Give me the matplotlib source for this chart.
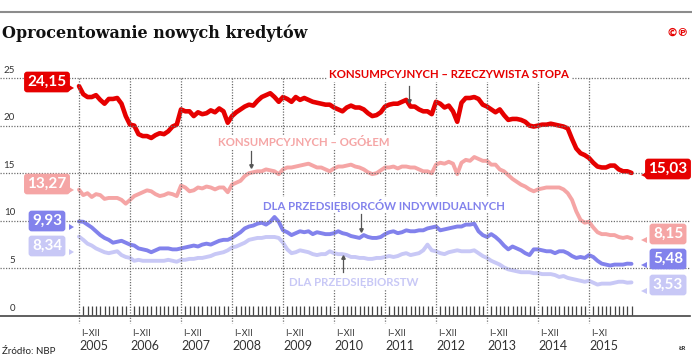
import matplotlib
matplotlib.use('Agg')
import matplotlib.pyplot as plt
from matplotlib.transforms import Affine2D, blended_transform_factory
from matplotlib.patches import Polygon

plt.rcParams['font.family'] = ['Lato', 'DejaVu Sans']

# monthly data, I 2005 - XI 2015
months = list(range(131))
years = ['2005', '2006', '2007', '2008', '2009', '2010', '2011', '2012', '2013', '2014', '2015']
periods = ['I–XII'] * 10 + ['I–XI']
grid_vals = [5, 10, 15, 20, 25]

konsump_real = [
    24.15, 23.3, 23.0, 23.0, 23.2, 22.7, 22.3, 22.8, 22.8, 22.9, 22.3, 21.0,
    20.1, 20.0, 19.1, 18.9, 18.9, 18.7, 19.0, 19.2, 19.1, 19.4, 19.9, 20.1,
    21.7, 21.5, 21.5, 21.0, 21.4, 21.2, 21.3, 21.6, 21.4, 21.8, 21.5, 20.3,
    21.0, 21.4, 21.7, 22.0, 22.2, 22.1, 22.6, 23.0, 23.2, 23.4, 23.0, 22.5,
    23.0, 22.8, 22.5, 23.0, 22.7, 22.9, 22.7, 22.5, 22.4, 22.3, 22.2, 22.2,
    21.9, 21.7, 21.5, 21.9, 22.1, 21.9, 21.9, 21.7, 21.3, 21.0, 21.1, 21.4,
    22.0, 22.2, 22.3, 22.3, 22.5, 22.7, 22.0, 22.0, 21.7, 21.5, 21.5, 21.2,
    22.5, 22.3, 21.9, 22.1, 21.5, 20.4, 22.4, 22.9, 22.9, 23.0, 22.8, 22.2,
    22.0, 21.7, 21.4, 21.7, 21.1, 20.6, 20.7, 20.7, 20.6, 20.4, 20.0, 19.9,
    20.0, 20.1, 20.1, 20.2, 20.1, 20.0, 19.9, 19.7, 18.6, 17.6, 17.1, 16.9,
    16.6, 16.1, 15.7, 15.6, 15.6, 15.8, 15.8, 15.4, 15.2, 15.2, 15.03]

konsump_all = [
    13.27, 12.7, 12.9, 12.5, 12.8, 12.7, 12.3, 12.4, 12.4, 12.4, 12.2, 11.8,
    12.2, 12.6, 12.8, 13.0, 13.2, 13.1, 12.8, 12.6, 12.7, 12.9, 12.8, 12.6,
    13.7, 13.5, 13.1, 13.2, 13.5, 13.4, 13.6, 13.5, 13.3, 13.5, 13.5, 13.0,
    13.8, 14.0, 14.2, 14.7, 15.0, 15.1, 15.2, 15.2, 15.4, 15.3, 15.2, 14.9,
    15.4, 15.6, 15.6, 15.7, 15.8, 15.9, 16.0, 15.8, 15.6, 15.6, 15.4, 15.2,
    15.5, 15.7, 15.7, 15.8, 15.9, 15.7, 15.6, 15.4, 15.1, 14.9, 15.0, 15.3,
    15.6, 15.6, 15.7, 15.5, 15.7, 15.7, 15.6, 15.6, 15.4, 15.2, 15.2, 15.0,
    15.9, 16.1, 16.0, 16.2, 16.0, 14.9, 16.1, 16.4, 16.3, 16.7, 16.5, 16.3,
    16.3, 15.9, 15.9, 15.4, 15.2, 14.8, 14.4, 14.1, 13.8, 13.6, 13.3, 13.1,
    13.3, 13.4, 13.5, 13.5, 13.5, 13.5, 13.3, 12.9, 12.2, 11.0, 10.1, 9.8,
    9.9, 9.3, 8.8, 8.6, 8.6, 8.5, 8.5, 8.3, 8.2, 8.3, 8.15]

przeds_indyw = [
    9.93, 9.9, 9.6, 9.3, 8.9, 8.5, 8.2, 8.0, 7.7, 7.8, 7.9, 7.7,
    7.5, 7.4, 7.1, 7.0, 6.9, 6.7, 6.9, 7.1, 7.1, 7.1, 7.0, 7.0,
    7.1, 7.2, 7.3, 7.4, 7.3, 7.5, 7.6, 7.5, 7.7, 7.9, 8.0, 8.0,
    8.2, 8.5, 8.8, 9.2, 9.4, 9.5, 9.7, 9.8, 9.6, 9.9, 10.4, 9.9,
    9.0, 8.8, 8.5, 8.7, 8.9, 8.8, 8.9, 8.6, 8.8, 8.7, 8.6, 8.6,
    8.7, 8.9, 8.7, 8.6, 8.4, 8.3, 8.2, 8.5, 8.3, 8.2, 8.2, 8.3,
    8.6, 8.8, 8.9, 8.7, 8.8, 9.0, 8.9, 8.9, 9.0, 9.0, 9.2, 9.3,
    9.4, 9.0, 9.1, 9.2, 9.3, 9.4, 9.4, 9.6, 9.6, 9.7, 8.9, 8.5,
    8.3, 8.6, 8.3, 7.9, 7.4, 7.0, 7.3, 7.1, 6.9, 6.6, 6.4, 7.0,
    7.0, 6.9, 6.8, 6.8, 6.6, 6.8, 6.8, 6.6, 6.3, 6.1, 6.2, 6.1,
    6.4, 6.2, 5.8, 5.5, 5.4, 5.3, 5.4, 5.4, 5.4, 5.5, 5.48]

przeds = [
    8.34, 8.0, 7.6, 7.4, 7.1, 6.9, 6.7, 6.6, 6.7, 6.8, 6.4, 6.2,
    6.1, 5.8, 5.9, 5.8, 5.8, 5.8, 5.8, 5.8, 5.8, 5.9, 5.8, 5.7,
    5.9, 5.9, 6.0, 6.0, 6.1, 6.1, 6.2, 6.3, 6.5, 6.6, 6.7, 6.9,
    7.2, 7.3, 7.5, 7.7, 8.0, 8.1, 8.2, 8.2, 8.3, 8.3, 8.3, 8.2,
    7.7, 7.0, 6.6, 6.7, 6.9, 6.8, 6.7, 6.5, 6.4, 6.5, 6.5, 6.8,
    6.6, 6.5, 6.5, 6.4, 6.2, 6.2, 6.1, 6.1, 6.0, 6.0, 6.1, 6.1,
    6.2, 6.3, 6.2, 6.3, 6.5, 6.6, 6.4, 6.5, 6.6, 6.9, 7.5, 6.9,
    6.8, 6.6, 6.5, 6.7, 6.8, 6.9, 6.8, 6.8, 6.8, 6.9, 6.6, 6.3,
    6.1, 5.8, 5.6, 5.4, 5.1, 4.9, 4.8, 4.7, 4.6, 4.6, 4.6, 4.5,
    4.5, 4.4, 4.4, 4.4, 4.3, 4.1, 4.2, 4.0, 3.9, 3.8, 3.7, 3.6,
    3.7, 3.5, 3.3, 3.4, 3.4, 3.4, 3.5, 3.6, 3.6, 3.5, 3.53]

RED = '#e60000'
PINK = '#f5a5a5'
PURPLE = '#8282ec'
LAVENDER = '#c8c8f6'
GRID = '#6e6e6e'

W, H = 692, 360
fig = plt.figure(figsize=(W / 100, H / 100), dpi=100)
# pixel coordinates, origin top-left
pix = Affine2D().scale(1 / W, -1 / H).translate(0, 1) + fig.transFigure

X0, X1, Y0, Y1 = 79, 631.5, 316, 78   # plot area in px
ax = fig.add_axes([X0 / W, 1 - Y0 / H, (X1 - X0) / W, (Y0 - Y1) / H],
                  facecolor='none')
ax.set_xlim(0, 130)
ax.set_ylim(0, 25)
ax.axis('off')

xpix_ydata = blended_transform_factory(pix, ax.transData)
xdata_ypix = blended_transform_factory(ax.transData, pix)

def ypx(v):
    return Y0 - v * (Y0 - Y1) / 25

def xpx(m):
    return X0 + m * (X1 - X0) / 130

# grid on the figure layer
for v in grid_vals:
    fig.add_artist(plt.Line2D([0, 690], [ypx(v), ypx(v)], transform=pix,
                              color=GRID, lw=0.9, ls=(0, (1, 1.2)), zorder=1))
for i in range(len(years)):
    fig.add_artist(plt.Line2D([xpx(12 * i)] * 2, [Y1, 323], transform=pix,
                              color=GRID, lw=0.9, ls=(0, (1, 1.2)), zorder=1))
fig.add_artist(plt.Line2D([0, 690], [Y0, Y0], transform=pix, color='#444444',
                          lw=1.2, zorder=1.5))

for v in [0] + grid_vals:
    ax.text(15, v + 0.35, str(v), transform=xpix_ydata, ha='right', va='bottom',
            fontsize=7, color='#333333')
for i in range(len(years)):
    ax.text(12 * i + 0.6, 333, periods[i], transform=xdata_ypix, ha='left',
            va='center', fontsize=6.5, color='#333333')
    ax.text(12 * i + 0.1, 346, years[i], transform=xdata_ypix, ha='left',
            va='center', fontsize=9, color='#333333')

# month ticks
ax.vlines([m for m in months if m % 12], 0.1, 1.0, colors='#444444', lw=0.9,
          clip_on=False, zorder=3)

# series
kw = dict(solid_joinstyle='round', solid_capstyle='round', clip_on=False)
ax.plot(months, przeds, color=LAVENDER, lw=2.8, zorder=4, **kw)
ax.plot(months, przeds_indyw, color=PURPLE, lw=2.8, zorder=5, **kw)
ax.plot(months, konsump_all, color=PINK, lw=2.8, zorder=6, **kw)
ax.plot(months, konsump_real, color=RED, lw=3.3, zorder=7, **kw)

# series labels with small pointers (above the grid layer)
labels = [
    ('KONSUMPCYJNYCH – RZECZYWISTA STOPA', RED, 329, 75, 409, 86, 101),
    ('KONSUMPCYJNYCH – OGÓŁEM', PINK, 218, 143, 251, 151, 166),
    ('DLA PRZEDSIĘBIORCÓW INDYWIDUALNYCH', PURPLE, 263, 205, 361, 214, 230),
    ('DLA PRZEDSIĘBIORSTW', LAVENDER, 289, 283, 343, 272, 257),
]
for txt, c, x, y, px_, y0, y1 in labels:
    fig.text(x, y, txt, transform=pix, ha='left', va='center', fontsize=8.2,
             fontweight='bold', color=c, zorder=5,
             bbox=dict(boxstyle='square,pad=0.15', fc='white', ec='none'))
    fig.add_artist(plt.Line2D([px_, px_], [y0, y1], transform=pix,
                              color='#555555', lw=0.9, zorder=5))
    fig.add_artist(plt.Line2D([px_], [y1], transform=pix,
                              marker='v' if y1 > y0 else '^', ms=2.5,
                              color='#555555', zorder=5))

# value boxes
series = [konsump_real, konsump_all, przeds_indyw, przeds]
colors = [RED, PINK, PURPLE, LAVENDER]
left_y = [82, 184, 221, 246]
right_y = [169, 234, 259, 285]
for s, c, ly, ry in zip(series, colors, left_y, right_y):
    fig.text(47, ly, f'{s[0]:.2f}'.replace('.', ','), transform=pix,
             ha='center', va='center', fontsize=11, fontweight='bold',
             color='white', zorder=6,
             bbox=dict(boxstyle='round,pad=0.22,rounding_size=0.2', fc=c, ec='none'))
    fig.add_artist(Polygon([(69, ly + 3), (74, ly + 6), (69, ly + 9)],
                           closed=True, fc=c, ec='none', transform=pix, zorder=6))
    fig.text(668, ry, f'{s[-1]:.2f}'.replace('.', ','), transform=pix,
             ha='center', va='center', fontsize=11, fontweight='bold',
             color='white', zorder=6,
             bbox=dict(boxstyle='round,pad=0.22,rounding_size=0.2', fc=c, ec='none'))
    fig.add_artist(Polygon([(647, ry + 3), (641, ry + 6), (647, ry + 9)],
                           closed=True, fc=c, ec='none', transform=pix, zorder=6))

# header / footer
fig.add_artist(plt.Line2D([0, W], [12, 12], transform=pix, color='#8c8c8c', lw=1.5))
fig.text(2, 33, 'Oprocentowanie nowych kredytów', transform=pix, ha='left',
         va='center', fontsize=11.5, fontweight='bold', family='DejaVu Serif',
         color='#111111')
fig.text(689, 33, '©℗', transform=pix, ha='right', va='center', fontsize=8,
         fontweight='bold', color=RED, family='DejaVu Sans')
fig.text(2, 351, 'Źródło: NBP', transform=pix, ha='left', va='center',
         fontsize=7, color='#222222')
fig.text(686, 348, 'ŁR', transform=pix, ha='right', va='center', fontsize=4.5,
         fontweight='bold', color='#222222')

fig.savefig('out.png', dpi=100)
